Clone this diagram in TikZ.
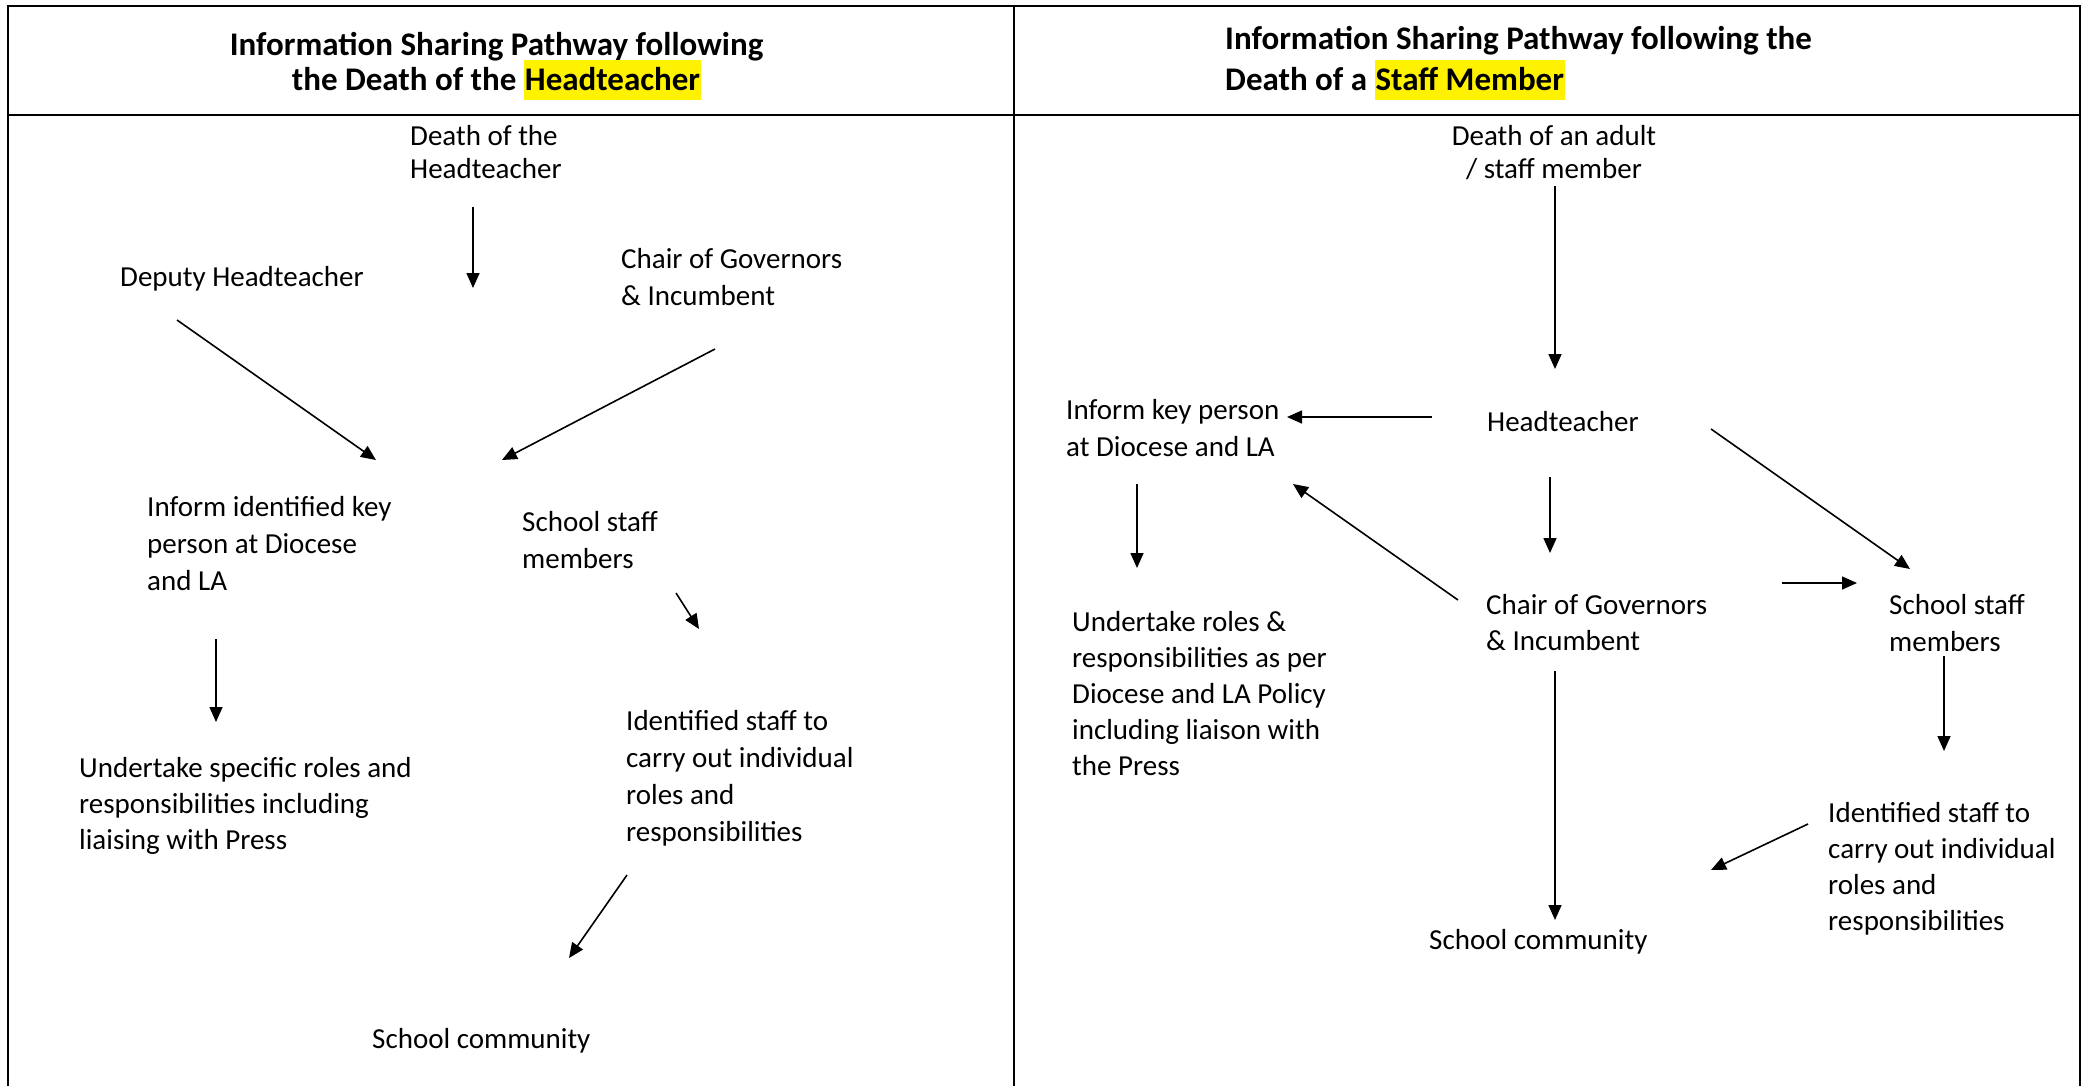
\documentclass[tikz,border=0pt]{standalone}
\usepackage{fontspec}
\setmainfont{Carlito}
\usetikzlibrary{arrows.meta}
\newcommand\hlword[1]{\smash{\setlength{\fboxsep}{0pt}\colorbox{yellow}{\rule[-10pt]{0pt}{40pt}\kern1pt#1\kern1pt}}}
\newcommand\rows[2]{\begin{tabular}[t]{@{}#1@{}}#2\end{tabular}}
\begin{document}
\begin{tikzpicture}[x=1pt,y=-1pt,
  body/.style={inner sep=0pt, anchor=base west, font=\fontsize{29}{36}\selectfont},
  bodyc/.style={body, anchor=base},
  tight/.style={font=\fontsize{29}{33.5}\selectfont},
  loose/.style={font=\fontsize{29}{37}\selectfont},
  headl/.style={inner sep=0pt, anchor=base, font=\bfseries\fontsize{33}{35}\selectfont},
  headr/.style={inner sep=0pt, anchor=base west, font=\bfseries\fontsize{33}{41}\selectfont},
  arr/.style={-{Triangle[length=15pt,width=13pt]}, line width=1.6pt},
  frame/.style={line width=2.5pt}]
\clip (0,0) rectangle (2087,1085);
\fill[white] (0,0) rectangle (2087,1085);
% table frame
\draw[frame] (8,1100) -- (8,6) -- (2080,6) -- (2080,1100);
\draw[frame] (8,115) -- (2080,115);
\draw[frame] (1014,6) -- (1014,1100);
% headers
\node[headl] (hL) at (496.5,55) {\rows{c}{Information Sharing Pathway following\\the Death of the \hlword{Headteacher}}};
\node[headr] (hR) at (1225,49) {\rows{l}{Information Sharing Pathway following the\\Death of a \hlword{Staff Member}}};
% left panel
\node[body,tight] (deathL) at (410,145) {\rows{l}{Death of the\\Headteacher}};
\node[body] (deputyL) at (120,286) {Deputy Headteacher};
\node[body,loose] (chairL) at (621,268) {\rows{l}{Chair of Governors\\\& Incumbent}};
\node[body,loose] (informL) at (147,516) {\rows{l}{Inform identified key\\person at Diocese\\and LA}};
\node[body,loose] (staffL) at (522,531) {\rows{l}{School staff\\members}};
\node[body] (undertakeL) at (79,777) {\rows{l}{Undertake specific roles and\\responsibilities including\\liaising with Press}};
\node[body,loose] (identL) at (626,730) {\rows{l}{Identified staff to\\carry out individual\\roles and\\responsibilities}};
\node[body] (commL) at (372,1048) {School community};
% right panel
\node[bodyc,tight] (deathR) at (1554,145) {\rows{c}{Death of an adult\\/ staff member}};
\node[body] (headR) at (1487,431) {Headteacher};
\node[body,loose] (informR) at (1066,419) {\rows{l}{Inform key person\\at Diocese and LA}};
\node[body] (chairR) at (1486,614) {\rows{l}{Chair of Governors\\\& Incumbent}};
\node[body,loose] (staffR) at (1889,614) {\rows{l}{School staff\\members}};
\node[body] (undertakeR) at (1072,631) {\rows{l}{Undertake roles \&\\responsibilities as per\\Diocese and LA Policy\\including liaison with\\the Press}};
\node[body] (identR) at (1828,822) {\rows{l}{Identified staff to\\carry out individual\\roles and\\responsibilities}};
\node[body] (commR) at (1429,949) {School community};
% connector end points (left)
\coordinate (a1s) at (473,207);  \coordinate (a1e) at (473,288);
\coordinate (a2s) at (177,320);  \coordinate (a2e) at (376,460);
\coordinate (a3s) at (715,349);  \coordinate (a3e) at (502,460);
\coordinate (a4s) at (676,593);  \coordinate (a4e) at (699,629);
\coordinate (a5s) at (216,639);  \coordinate (a5e) at (216,722);
\coordinate (a6s) at (627,875);  \coordinate (a6e) at (569,958);
% connector end points (right)
\coordinate (b1s) at (1555,186);  \coordinate (b1e) at (1555,369);
\coordinate (b2s) at (1432,417);  \coordinate (b2e) at (1287,417);
\coordinate (b3s) at (1550,477);  \coordinate (b3e) at (1550,553);
\coordinate (b4s) at (1711,429);  \coordinate (b4e) at (1910,569);
\coordinate (b5s) at (1137,484);  \coordinate (b5e) at (1137,568);
\coordinate (b6s) at (1458,600);  \coordinate (b6e) at (1293,484);
\coordinate (b7s) at (1782,583);  \coordinate (b7e) at (1857,583);
\coordinate (b8s) at (1944,656);  \coordinate (b8e) at (1944,751);
\coordinate (b9s) at (1555,671);  \coordinate (b9e) at (1555,920);
\coordinate (b10s) at (1808,824); \coordinate (b10e) at (1711,870);
% connectors
\foreach \n in {a1,a2,a3,a4,a5,a6,b1,b2,b3,b4,b5,b6,b7,b8,b9,b10}
  \draw[arr] (\n s) -- (\n e);
\end{tikzpicture}
\end{document}
